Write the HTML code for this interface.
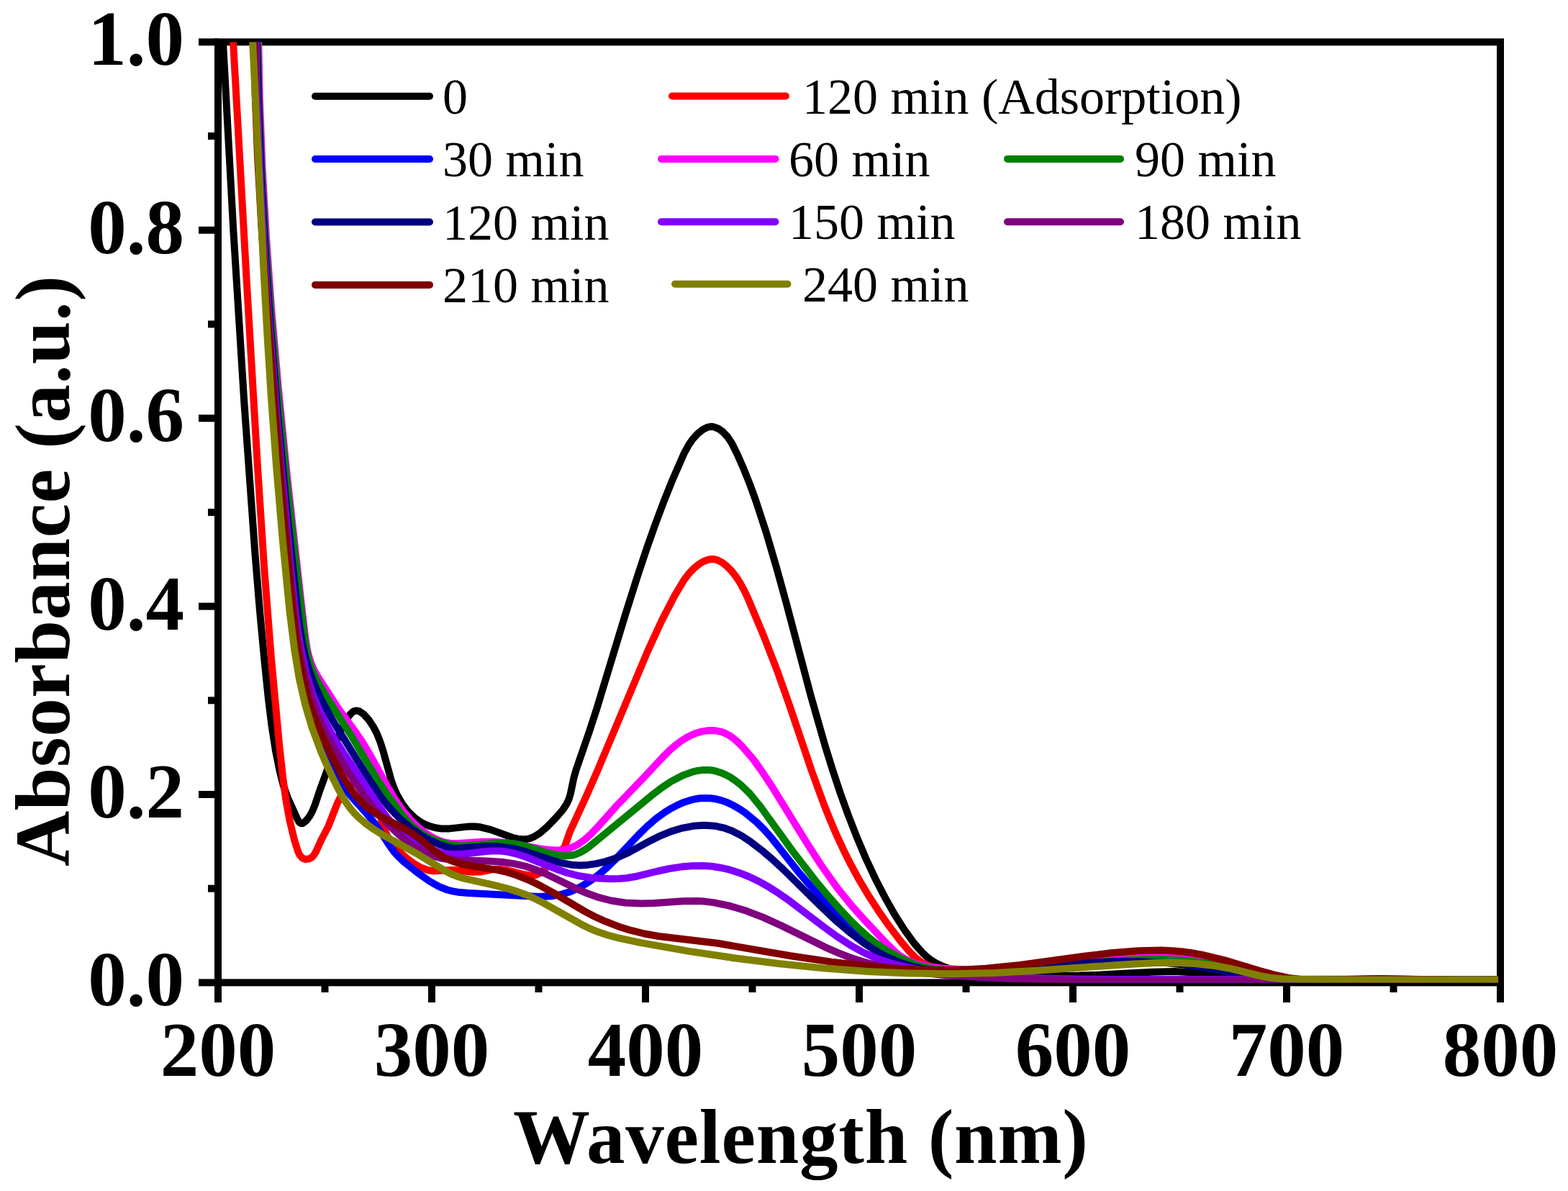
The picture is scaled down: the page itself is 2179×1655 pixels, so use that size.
<!DOCTYPE html><html><head><meta charset="utf-8"><style>html,body{margin:0;padding:0;background:#fff;}svg{display:block}.b{font-family:"Liberation Serif",serif;font-weight:bold;fill:#000}.r{font-family:"Liberation Serif",serif;font-weight:normal;fill:#000}</style></head><body>
<svg width="2179" height="1655" viewBox="0 0 2179 1655">
<rect width="2179" height="1655" fill="#fff"/>
<g stroke="#000" stroke-width="10" fill="none" stroke-linecap="butt">
<rect x="303.0" y="58.4" width="1782.0" height="1307.0"/>
<line x1="276" y1="1365.4" x2="303.0" y2="1365.4"/>
<line x1="289" y1="1234.7" x2="303.0" y2="1234.7"/>
<line x1="276" y1="1104.0" x2="303.0" y2="1104.0"/>
<line x1="289" y1="973.3" x2="303.0" y2="973.3"/>
<line x1="276" y1="842.6" x2="303.0" y2="842.6"/>
<line x1="289" y1="711.9" x2="303.0" y2="711.9"/>
<line x1="276" y1="581.2" x2="303.0" y2="581.2"/>
<line x1="289" y1="450.5" x2="303.0" y2="450.5"/>
<line x1="276" y1="319.8" x2="303.0" y2="319.8"/>
<line x1="289" y1="189.1" x2="303.0" y2="189.1"/>
<line x1="276" y1="58.4" x2="303.0" y2="58.4"/>
<line x1="303.0" y1="1365.4" x2="303.0" y2="1393"/>
<line x1="451.5" y1="1365.4" x2="451.5" y2="1379"/>
<line x1="600.0" y1="1365.4" x2="600.0" y2="1393"/>
<line x1="748.5" y1="1365.4" x2="748.5" y2="1379"/>
<line x1="897.0" y1="1365.4" x2="897.0" y2="1393"/>
<line x1="1045.5" y1="1365.4" x2="1045.5" y2="1379"/>
<line x1="1194.0" y1="1365.4" x2="1194.0" y2="1393"/>
<line x1="1342.5" y1="1365.4" x2="1342.5" y2="1379"/>
<line x1="1491.0" y1="1365.4" x2="1491.0" y2="1393"/>
<line x1="1639.5" y1="1365.4" x2="1639.5" y2="1379"/>
<line x1="1788.0" y1="1365.4" x2="1788.0" y2="1393"/>
<line x1="1936.5" y1="1365.4" x2="1936.5" y2="1379"/>
<line x1="2085.0" y1="1365.4" x2="2085.0" y2="1393"/>
</g>
<defs><clipPath id="plotclip"><rect x="303" y="58.4" width="1782" height="1307"/></clipPath></defs>
<g fill="none" stroke-width="10.0" stroke-linejoin="round" stroke-linecap="butt" clip-path="url(#plotclip)">
<path stroke="#000000" d="M309.5,49.9 324.3,319.7 339.5,561.9 354.4,769.0 361.0,848.8 368.0,923.5 372.9,970.8 377.5,1008.1 382.9,1042.7 388.8,1072.1 393.8,1091.5 399.6,1108.0 413.0,1137.6 415.4,1142.0 417.2,1143.8 419.6,1144.3 421.9,1143.3 425.7,1140.1 430.3,1134.2 433.9,1127.6 437.7,1118.4 445.7,1094.7 456.9,1064.1 468.4,1028.4 472.9,1016.7 478.3,1005.5 484.8,994.8 489.9,989.4 492.1,988.2 494.5,987.6 497.0,987.7 499.4,988.4 505.6,992.6 512.3,1000.1 519.2,1010.5 523.8,1019.4 528.4,1031.0 532.9,1045.3 543.6,1083.9 547.8,1095.6 551.9,1104.8 559.5,1117.7 567.1,1127.6 576.1,1136.3 584.3,1142.1 590.9,1145.6 597.9,1148.3 605.1,1150.3 612.5,1151.4 625.0,1151.4 652.4,1148.4 659.9,1148.5 667.3,1149.3 681.9,1152.9 712.5,1164.0 719.8,1165.7 724.7,1166.3 732.2,1166.0 737.1,1164.8 741.7,1162.9 750.2,1157.7 759.7,1149.5 773.6,1135.2 781.8,1125.7 787.3,1117.4 790.5,1110.6 792.7,1103.4 797.3,1081.4 800.7,1069.3 817.9,1019.7 828.8,986.4 868.8,854.7 886.1,799.9 898.8,761.9 910.5,728.9 922.8,696.1 934.9,665.9 951.0,629.3 957.0,618.3 962.7,610.1 969.5,602.7 977.3,596.5 984.1,593.4 989.1,592.8 991.6,593.1 998.6,595.7 1004.6,600.1 1011.4,607.5 1016.9,615.8 1024.7,631.5 1033.7,652.1 1042.1,673.0 1050.6,696.5 1064.6,739.4 1079.4,789.8 1092.7,838.0 1126.6,966.2 1146.5,1036.0 1156.9,1069.4 1167.9,1102.6 1179.0,1133.2 1190.8,1163.5 1203.5,1193.5 1216.2,1220.7 1230.0,1247.4 1243.5,1271.3 1257.0,1292.4 1270.2,1310.6 1281.8,1323.8 1287.2,1328.9 1293.1,1333.6 1301.6,1338.9 1310.7,1343.1 1320.1,1346.2 1332.3,1349.1 1344.7,1350.9 1357.2,1352.1 1404.6,1354.5 1457.1,1355.8 1499.7,1355.6 1529.7,1354.6 1599.6,1350.7 1632.1,1350.1 1662.1,1351.4 1709.3,1356.9 1729.3,1358.6 1754.3,1360.1 1786.8,1361.2 1859.3,1362.0 2019.4,1361.1 2082.0,1362.0"/>
<path stroke="#FF0000" d="M323.6,49.9 342.4,384.7 357.7,644.5 367.2,789.4 376.7,911.6 388.0,1033.7 393.2,1081.0 397.2,1110.7 402.6,1140.3 409.0,1167.0 414.3,1183.8 416.5,1188.2 419.8,1192.0 421.9,1193.3 424.3,1194.0 429.2,1193.6 433.6,1191.2 436.8,1187.4 439.3,1183.0 446.5,1167.1 455.8,1149.3 468.6,1116.8 475.3,1103.3 479.6,1097.2 485.0,1091.9 489.3,1089.5 491.7,1088.8 496.7,1088.5 504.0,1090.3 510.5,1093.9 516.1,1098.9 520.5,1105.0 522.7,1109.5 525.2,1116.6 530.3,1141.0 533.2,1150.6 538.4,1162.0 545.3,1172.4 553.5,1181.8 564.5,1192.0 574.5,1199.6 585.3,1205.8 594.8,1209.2 602.2,1210.3 629.6,1209.0 657.0,1211.8 667.0,1211.5 686.7,1207.9 694.2,1207.7 704.1,1209.1 728.3,1215.3 738.2,1216.6 743.2,1216.2 745.6,1215.5 752.2,1212.0 759.5,1205.2 777.0,1183.9 784.5,1177.4 791.8,1156.1 813.8,1108.4 830.9,1069.5 899.7,905.6 919.6,862.4 938.0,826.9 950.9,805.4 956.9,797.5 963.8,790.2 971.5,783.8 978.0,780.0 985.0,777.5 990.0,776.9 992.5,777.1 997.3,778.4 1003.9,781.9 1009.8,786.5 1016.8,793.6 1023.0,801.5 1028.4,809.9 1034.4,820.9 1039.7,832.2 1061.0,883.0 1080.9,934.3 1096.0,976.8 1128.1,1071.6 1144.4,1116.3 1153.7,1139.5 1162.5,1160.2 1172.0,1180.7 1180.9,1198.6 1194.0,1222.8 1206.8,1244.3 1220.4,1265.3 1234.8,1285.8 1249.9,1305.7 1264.4,1323.0 1273.3,1331.7 1279.2,1336.3 1283.5,1338.9 1292.7,1342.8 1307.2,1346.8 1324.3,1350.5 1344.1,1353.7 1363.9,1356.1 1383.9,1357.8 1436.4,1360.3 1483.9,1361.1 1566.5,1361.5 2082.0,1361.9"/>
<path stroke="#0000FF" d="M355.3,50.0 357.2,102.5 362.2,277.7 365.6,347.7 370.4,425.2 398.0,792.2 401.4,827.1 405.4,859.4 409.7,889.1 414.9,918.7 420.0,943.2 425.2,965.1 431.1,986.9 437.0,1006.1 444.3,1027.4 451.5,1046.1 458.6,1062.1 465.6,1075.4 473.6,1088.1 481.0,1098.2 490.7,1109.6 510.8,1132.0 520.3,1143.6 527.6,1153.8 541.1,1174.8 548.6,1184.9 553.7,1190.4 561.0,1197.3 580.5,1212.9 596.8,1224.5 609.9,1231.9 621.5,1236.5 628.8,1238.4 636.2,1239.7 651.2,1241.0 748.7,1245.9 766.2,1245.3 781.0,1242.6 792.9,1238.9 806.5,1232.6 819.4,1224.8 831.5,1215.9 842.9,1206.1 853.7,1195.7 886.3,1161.1 898.8,1148.8 912.0,1137.3 924.2,1128.5 932.7,1123.3 941.6,1118.6 950.8,1114.7 957.9,1112.4 965.2,1110.5 972.6,1109.3 980.1,1108.9 987.6,1109.2 995.1,1110.3 1002.3,1112.1 1009.4,1114.6 1018.5,1118.8 1027.2,1123.8 1035.5,1129.4 1051.0,1142.1 1061.7,1152.6 1071.7,1163.8 1110.5,1212.9 1131.9,1237.4 1175.4,1282.4 1188.1,1294.5 1201.4,1306.0 1219.5,1319.3 1228.0,1324.6 1236.8,1329.4 1245.9,1333.5 1255.3,1337.1 1274.5,1342.7 1291.7,1345.9 1309.1,1348.0 1329.1,1349.0 1349.1,1348.8 1374.1,1347.6 1429.1,1343.5 1494.1,1339.9 1571.4,1333.6 1591.4,1332.7 1611.5,1332.6 1639.0,1334.2 1666.3,1337.7 1690.9,1342.3 1754.5,1356.3 1774.2,1359.4 1794.2,1361.2 1824.2,1361.9 1906.8,1360.3 2027.0,1361.8 2082.1,1361.1"/>
<path stroke="#FF00FF" d="M359.0,50.0 360.9,140.0 364.5,232.5 370.0,330.0 377.2,429.8 386.8,539.5 398.7,659.0 417.8,830.7 424.2,885.3 426.9,902.6 429.3,912.4 432.4,921.9 436.4,931.0 441.3,939.8 469.8,983.9 494.9,1018.3 504.7,1032.8 516.1,1052.2 538.8,1093.9 549.2,1111.1 559.1,1125.5 568.7,1137.1 579.2,1147.8 588.9,1155.7 599.3,1162.7 608.2,1167.2 617.7,1170.4 625.0,1171.7 637.5,1171.9 670.0,1169.7 687.5,1169.8 700.0,1170.7 712.4,1172.1 749.3,1179.1 764.2,1181.1 771.7,1181.5 779.2,1181.3 786.6,1180.2 791.4,1178.9 798.3,1176.0 804.9,1172.3 812.9,1166.4 820.4,1159.7 829.1,1150.8 857.5,1119.1 895.7,1079.4 921.2,1051.9 930.1,1043.1 939.5,1034.9 947.6,1028.9 954.0,1025.0 960.6,1021.6 967.6,1018.7 974.8,1016.6 982.2,1015.3 989.7,1014.9 994.7,1015.3 1002.0,1016.8 1006.7,1018.5 1013.4,1021.9 1019.5,1026.3 1025.2,1031.1 1032.3,1038.2 1046.9,1055.3 1058.6,1071.5 1072.4,1092.4 1121.1,1171.2 1141.4,1202.7 1163.2,1233.3 1183.6,1258.7 1198.6,1275.4 1231.1,1310.1 1243.6,1322.4 1251.4,1328.6 1257.8,1332.6 1264.5,1335.9 1273.9,1339.4 1290.9,1343.4 1310.8,1345.8 1338.3,1347.3 1368.3,1347.1 1413.3,1344.5 1493.0,1336.9 1527.9,1334.1 1612.8,1328.7 1632.8,1328.3 1647.8,1329.5 1665.0,1332.7 1727.9,1349.5 1752.2,1355.2 1771.9,1358.7 1791.8,1360.9 1821.9,1361.8 1901.9,1360.4 2027.0,1361.7 2082.1,1361.1"/>
<path stroke="#008000" d="M358.0,50.0 359.8,140.1 363.4,232.7 368.8,330.2 376.2,432.6 386.0,544.9 398.0,664.5 417.2,836.2 423.2,885.9 426.3,905.7 429.2,917.9 432.3,927.4 437.2,938.9 442.9,950.1 455.7,971.6 488.1,1022.3 522.6,1080.4 539.0,1105.5 558.3,1131.8 569.8,1145.0 581.1,1154.8 591.6,1161.6 602.9,1167.1 614.8,1171.1 627.0,1173.8 636.9,1174.9 649.4,1175.3 689.3,1171.8 699.4,1171.5 709.4,1172.0 719.3,1173.2 729.1,1175.3 760.2,1185.0 772.3,1188.0 784.7,1189.4 794.7,1188.6 799.5,1187.3 806.5,1184.4 813.0,1180.6 819.1,1176.3 906.2,1104.8 920.1,1094.2 932.7,1085.9 948.2,1077.8 962.3,1072.6 969.6,1070.9 977.1,1070.0 984.6,1069.9 989.6,1070.4 994.5,1071.4 1001.6,1073.7 1008.5,1076.6 1015.1,1080.2 1021.4,1084.4 1029.3,1090.5 1041.9,1102.7 1056.2,1120.1 1101.7,1183.0 1133.9,1224.6 1149.9,1243.9 1166.4,1262.6 1181.9,1279.1 1194.4,1291.3 1205.6,1301.3 1215.4,1309.2 1225.5,1316.5 1236.1,1323.2 1247.1,1329.2 1258.3,1334.7 1269.9,1339.4 1281.9,1343.2 1296.5,1346.4 1311.5,1347.8 1331.5,1348.1 1364.1,1347.6 1426.6,1344.4 1561.4,1334.4 1591.5,1333.2 1616.5,1333.2 1646.5,1334.8 1661.5,1336.4 1676.3,1338.6 1698.4,1343.3 1746.7,1356.2 1759.0,1358.5 1774.0,1360.0 1794.0,1360.6 2082.0,1361.5"/>
<path stroke="#000080" d="M356.8,50.0 359.1,145.1 363.0,245.2 368.6,347.6 376.0,455.0 386.0,577.3 398.1,704.4 413.5,848.8 416.7,873.6 420.5,895.9 423.7,910.5 426.9,922.6 430.6,934.6 435.9,948.6 441.8,962.4 448.4,975.9 464.2,1004.4 514.4,1085.2 529.8,1108.0 539.1,1119.8 549.1,1131.0 559.9,1141.4 571.5,1151.1 583.7,1159.7 596.7,1167.3 610.4,1173.5 622.3,1177.2 629.7,1178.4 637.2,1178.8 674.6,1176.0 687.2,1176.1 702.1,1177.4 714.5,1179.4 729.1,1182.9 767.1,1195.6 779.1,1199.0 793.9,1201.7 806.4,1202.4 816.4,1201.9 828.7,1200.1 840.9,1197.3 852.9,1193.5 862.2,1189.8 873.6,1184.6 904.4,1167.9 917.8,1161.3 931.8,1155.6 946.1,1151.2 963.3,1147.8 978.3,1146.7 993.2,1147.7 1005.5,1150.3 1017.2,1154.5 1030.6,1161.4 1043.1,1169.7 1059.0,1181.9 1074.2,1194.9 1088.9,1208.5 1140.6,1259.5 1160.6,1278.4 1181.5,1296.3 1201.6,1311.3 1214.2,1319.4 1225.0,1325.7 1236.2,1331.4 1247.7,1336.3 1257.1,1339.7 1269.1,1343.2 1281.3,1345.9 1293.7,1348.0 1311.1,1349.8 1328.6,1350.7 1348.7,1350.9 1368.7,1350.4 1408.6,1347.8 1485.9,1340.2 1515.8,1337.7 1548.3,1336.1 1578.4,1336.0 1618.4,1337.9 1655.7,1341.8 1692.8,1347.8 1746.7,1359.1 1759.1,1360.9 1769.1,1361.7 1784.1,1361.9 1836.6,1361.2 2082.0,1361.6"/>
<path stroke="#8000FF" d="M355.5,49.9 357.2,137.6 360.6,230.2 365.8,327.7 372.8,432.7 385.8,592.4 405.0,799.4 411.2,856.6 414.3,879.0 418.1,901.2 425.0,933.0 429.0,947.5 433.6,961.8 438.0,973.5 444.0,987.3 456.6,1011.8 466.7,1029.1 477.4,1046.0 530.1,1125.3 537.5,1135.3 545.7,1144.9 554.5,1153.7 562.3,1160.0 574.8,1168.4 588.0,1175.5 601.8,1181.5 613.7,1185.2 623.6,1186.8 633.6,1187.3 646.1,1186.5 671.0,1183.5 683.4,1182.5 695.9,1182.6 705.9,1183.9 718.1,1186.7 730.0,1190.5 771.9,1207.2 788.4,1213.0 805.4,1217.3 822.7,1219.9 847.7,1221.3 860.2,1221.1 870.2,1220.2 885.0,1217.7 914.2,1210.5 928.9,1207.3 946.2,1204.6 961.2,1203.2 976.2,1203.0 988.7,1203.8 1001.0,1205.7 1013.3,1208.4 1027.6,1212.9 1041.6,1218.5 1055.1,1225.0 1070.3,1233.7 1082.9,1241.8 1097.3,1251.9 1145.1,1288.3 1163.4,1301.5 1182.3,1313.8 1199.8,1323.5 1220.4,1332.6 1241.8,1339.6 1266.2,1345.4 1293.3,1349.9 1328.2,1353.6 1378.2,1356.8 1435.7,1359.2 1498.3,1360.6 1565.9,1361.1 1733.7,1360.9 1956.6,1361.7 2081.8,1361.2"/>
<path stroke="#800080" d="M354.6,49.8 356.1,134.9 359.3,225.0 364.3,320.0 370.9,419.9 383.3,574.5 405.1,816.4 410.6,866.1 413.8,888.4 417.2,908.1 421.3,927.7 426.2,947.2 431.2,964.0 436.9,980.5 443.4,996.8 451.6,1015.1 459.5,1030.7 469.1,1048.3 480.7,1067.6 493.0,1086.5 507.4,1106.9 519.6,1122.8 530.9,1136.2 542.9,1149.0 555.6,1161.0 567.2,1170.5 579.6,1179.0 590.6,1185.0 602.2,1189.7 614.3,1192.8 624.2,1194.3 634.2,1195.2 676.7,1196.4 696.7,1197.8 714.0,1200.1 731.1,1204.0 743.0,1207.9 756.9,1213.6 799.7,1234.3 815.8,1241.3 832.3,1247.2 849.3,1251.5 869.0,1254.5 891.5,1255.6 909.0,1255.0 949.0,1252.2 969.0,1252.0 979.0,1252.6 991.4,1254.1 1013.5,1258.6 1037.4,1265.8 1060.8,1274.9 1085.8,1286.3 1146.5,1316.1 1164.8,1324.1 1181.2,1330.5 1200.2,1336.7 1222.0,1342.3 1246.6,1347.2 1271.3,1350.8 1311.2,1354.8 1366.1,1358.3 1423.6,1360.6 1486.2,1362.0 1563.8,1362.4 1731.5,1361.8 1974.3,1362.1 2081.9,1361.8"/>
<path stroke="#800000" d="M352.9,50.0 354.6,130.1 358.0,217.7 363.3,312.6 371.0,427.5 382.4,579.8 392.8,704.5 405.2,831.6 409.3,868.9 413.3,898.7 419.3,933.2 426.8,964.9 435.0,991.1 446.1,1019.0 454.5,1037.2 464.6,1057.4 474.0,1075.1 481.6,1088.0 488.6,1098.4 496.3,1108.3 504.9,1117.3 512.5,1123.9 518.6,1128.2 527.1,1133.5 558.2,1149.6 571.2,1157.2 581.4,1164.4 606.8,1184.7 615.2,1190.2 624.0,1194.9 633.4,1198.4 643.0,1201.1 655.3,1203.4 692.4,1209.1 704.6,1212.0 718.9,1216.6 735.2,1223.1 750.9,1230.8 768.5,1240.4 813.8,1267.1 827.1,1274.0 840.8,1280.2 859.5,1287.4 876.2,1292.7 895.6,1297.5 915.3,1301.0 997.3,1310.8 1098.5,1328.2 1155.4,1336.6 1210.1,1342.9 1260.1,1346.6 1290.1,1347.7 1317.6,1347.9 1345.1,1347.2 1370.1,1345.8 1417.5,1341.0 1506.7,1328.8 1544.0,1324.3 1581.4,1321.3 1614.0,1320.6 1629.0,1321.2 1643.9,1322.5 1656.3,1324.1 1671.1,1326.9 1702.7,1334.6 1750.7,1349.0 1770.0,1354.3 1789.5,1358.6 1809.4,1361.3 1821.9,1362.1 1836.9,1362.4 1916.9,1360.1 2032.1,1361.9 2059.6,1361.7 2082.1,1361.0"/>
<path stroke="#808000" d="M350.8,50.0 366.8,382.5 371.7,470.0 376.9,552.4 384.4,652.2 392.7,749.5 402.5,849.1 409.3,903.7 415.9,943.2 424.3,979.8 433.6,1011.0 445.8,1043.8 453.7,1062.2 463.2,1082.6 471.1,1098.3 478.5,1111.4 485.5,1121.7 491.9,1129.4 498.9,1136.5 508.5,1144.6 518.7,1151.9 531.4,1159.8 581.8,1187.7 615.9,1208.6 626.9,1214.5 636.3,1218.1 645.9,1220.9 685.0,1229.6 704.4,1234.5 718.7,1238.9 730.5,1243.2 742.0,1248.1 755.4,1254.9 809.9,1285.6 821.2,1291.0 832.8,1295.6 844.7,1299.5 856.8,1302.8 891.0,1310.1 957.6,1321.9 1021.9,1331.5 1084.0,1339.3 1146.3,1345.6 1206.2,1349.9 1263.7,1352.4 1323.7,1353.2 1381.3,1351.9 1436.3,1349.0 1576.1,1339.4 1606.1,1338.1 1633.6,1337.8 1661.1,1339.0 1688.5,1342.0 1710.6,1346.1 1754.4,1356.8 1766.7,1358.9 1781.7,1360.2 1811.7,1360.9 1879.3,1361.5 2082.0,1361.5"/>
</g>
<text class="b" x="256" y="1397.4" font-size="107" text-anchor="end">0.0</text>
<text class="b" x="256" y="1136.0" font-size="107" text-anchor="end">0.2</text>
<text class="b" x="256" y="874.6" font-size="107" text-anchor="end">0.4</text>
<text class="b" x="256" y="613.2" font-size="107" text-anchor="end">0.6</text>
<text class="b" x="256" y="351.8" font-size="107" text-anchor="end">0.8</text>
<text class="b" x="256" y="90.4" font-size="107" text-anchor="end">1.0</text>
<text class="b" x="303.0" y="1495" font-size="107" text-anchor="middle">200</text>
<text class="b" x="600.0" y="1495" font-size="107" text-anchor="middle">300</text>
<text class="b" x="897.0" y="1495" font-size="107" text-anchor="middle">400</text>
<text class="b" x="1194.0" y="1495" font-size="107" text-anchor="middle">500</text>
<text class="b" x="1491.0" y="1495" font-size="107" text-anchor="middle">600</text>
<text class="b" x="1788.0" y="1495" font-size="107" text-anchor="middle">700</text>
<text class="b" x="2085.0" y="1495" font-size="107" text-anchor="middle">800</text>
<text class="b" x="713" y="1615.6" font-size="107" textLength="799" lengthAdjust="spacing">Wavelength (nm)</text>
<text class="b" transform="translate(96,1204) rotate(-90)" x="0" y="0" font-size="107" textLength="821" lengthAdjust="spacing">Absorbance (a.u.)</text>
<line x1="438" y1="133.7" x2="597" y2="133.7" stroke="#000000" stroke-width="10" stroke-linecap="round"/>
<text class="r" x="615" y="157.7" font-size="70">0</text>
<line x1="934" y1="133.5" x2="1092" y2="133.5" stroke="#FF0000" stroke-width="10" stroke-linecap="round"/>
<text class="r" x="1115" y="157.5" font-size="70">120 min (Adsorption)</text>
<line x1="438" y1="221" x2="597" y2="221" stroke="#0000FF" stroke-width="10" stroke-linecap="round"/>
<text class="r" x="615" y="245.0" font-size="70">30 min</text>
<line x1="919" y1="220.9" x2="1077.5" y2="220.9" stroke="#FF00FF" stroke-width="10" stroke-linecap="round"/>
<text class="r" x="1096" y="244.9" font-size="70">60 min</text>
<line x1="1400" y1="220.9" x2="1557" y2="220.9" stroke="#008000" stroke-width="10" stroke-linecap="round"/>
<text class="r" x="1577" y="244.9" font-size="70">90 min</text>
<line x1="438" y1="308.5" x2="597" y2="308.5" stroke="#000080" stroke-width="10" stroke-linecap="round"/>
<text class="r" x="615" y="332.5" font-size="70">120 min</text>
<line x1="919" y1="308.3" x2="1077.5" y2="308.3" stroke="#8000FF" stroke-width="10" stroke-linecap="round"/>
<text class="r" x="1096" y="332.3" font-size="70">150 min</text>
<line x1="1400" y1="308.3" x2="1557" y2="308.3" stroke="#800080" stroke-width="10" stroke-linecap="round"/>
<text class="r" x="1577" y="332.3" font-size="70">180 min</text>
<line x1="438" y1="395.9" x2="597" y2="395.9" stroke="#800000" stroke-width="10" stroke-linecap="round"/>
<text class="r" x="615" y="419.9" font-size="70">210 min</text>
<line x1="938" y1="394.8" x2="1094.5" y2="394.8" stroke="#808000" stroke-width="10" stroke-linecap="round"/>
<text class="r" x="1115" y="418.8" font-size="70">240 min</text>
</svg></body></html>
